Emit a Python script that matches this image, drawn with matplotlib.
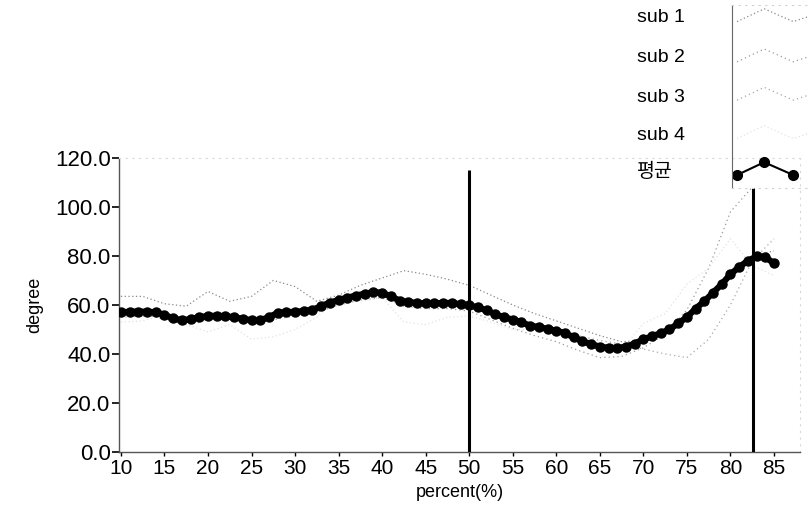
import numpy as np
import matplotlib
matplotlib.use("Agg")
import matplotlib.pyplot as plt

plt.rcParams['font.family'] = ['Liberation Sans', 'Noto Sans CJK KR', 'DejaVu Sans']

# percent of cycle for the averaged curve (1 % steps)
pct_mean = list(range(10, 86))
mean_deg = [
    57.0, 57.2, 57.3, 57.2, 57.0, 56.0, 54.5, 53.8, 54.2, 55.0,
    55.5, 55.6, 55.4, 55.0, 54.3, 53.8, 53.8, 55.0, 56.8, 57.0,
    57.2, 57.5, 58.0, 59.5, 61.0, 62.0, 63.0, 63.8, 64.6, 65.2,
    65.0, 63.5, 61.8, 61.2, 60.8, 60.6, 60.6, 60.8, 60.8, 60.3,
    59.8, 59.0, 57.8, 56.2, 55.0, 54.0, 53.0, 51.5, 51.0, 50.2,
    49.5, 48.5, 46.8, 45.2, 44.0, 43.0, 42.5, 42.4, 43.0, 44.2,
    46.0, 47.2, 48.5, 50.0, 52.5, 55.0, 58.5, 61.5, 65.0, 68.5,
    72.5, 75.5, 78.0, 79.8, 79.5, 77.0,
]

# individual subjects (2.5 % steps)
pct_sub = [10, 12.5, 15, 17.5, 20, 22.5, 25, 27.5, 30, 32.5, 35, 37.5, 40, 42.5, 45,
           47.5, 50, 52.5, 55, 57.5, 60, 62.5, 65, 67.5, 70, 72.5, 75, 77.5, 80, 82.5, 85]
sub1 = [63.5, 63.5, 60.5, 59.5, 65.5, 61.5, 63.5, 70.0, 67.5, 61.5, 64.0, 68.0, 71.0, 74.0, 72.5,
        70.5, 68.0, 64.0, 60.0, 56.5, 53.5, 50.5, 47.5, 45.0, 45.5, 49.5, 55.0, 63.0, 73.0, 80.0, 82.0]
sub2 = [57.0, 56.5, 54.0, 52.0, 54.0, 54.5, 52.5, 54.0, 55.5, 57.0, 60.0, 62.0, 63.0, 59.5, 58.5,
        58.5, 57.5, 54.0, 50.5, 47.5, 45.0, 41.5, 38.5, 39.0, 42.5, 48.0, 58.0, 75.0, 98.0, 108.0, np.nan]
sub3 = [55.0, 55.5, 55.0, 53.5, 54.0, 54.5, 53.0, 55.0, 56.0, 57.5, 61.0, 62.5, 63.5, 60.0, 59.5,
        59.5, 59.0, 56.0, 53.5, 51.5, 49.5, 47.5, 45.5, 44.0, 42.0, 40.0, 38.5, 46.0, 60.0, 78.0, 87.0]
sub4 = [53.0, 53.5, 56.0, 52.0, 49.0, 52.0, 46.0, 47.0, 50.0, 55.0, 63.0, 61.5, 63.0, 53.0, 52.0,
        55.0, 55.5, 53.0, 50.0, 50.0, 48.5, 47.0, 41.0, 41.5, 52.5, 56.5, 68.5, 75.0, 87.0, 76.0, 72.0]

sub_labels = ["sub 1", "sub 2", "sub 3", "sub 4"]
mean_label = "평균"
marker_pcts = [50, 82.6]

xticks = list(range(10, 90, 5))
yticks = [0, 20, 40, 60, 80, 100, 120]

sub_styles = [
    dict(color="#8a8a8a", lw=0.9, ls=(0, (1, 2))),
    dict(color="#9a9a9a", lw=0.9, ls=(0, (1, 2.5))),
    dict(color="#a8a8a8", lw=0.9, ls=(0, (1, 2.5))),
    dict(color="#e2e2e2", lw=0.9, ls=(0, (1, 2))),
]
mean_style = dict(color="black", lw=4.5, marker="o", ms=6.5, mfc="black", mec="black")

fig = plt.figure(figsize=(8.09, 5.16), dpi=100)
ax = fig.add_axes([0.147, 0.124, 0.842, 0.570])

for vals, st in zip([sub1, sub2, sub3, sub4], sub_styles):
    ax.plot(pct_sub, vals, **st, zorder=2)
ax.plot(pct_mean, mean_deg, **mean_style, zorder=3)

ax.vlines(marker_pcts[0], 0, 115, color="black", lw=2.2, zorder=4)
ax.vlines(marker_pcts[1], 0, 107.7, color="black", lw=2.2, zorder=4)

ax.set_xlim(9.77, 88.0)
ax.set_ylim(0, 120)
ax.set_xticks(xticks)
ax.set_xticklabels([str(t) for t in xticks])
ax.set_yticks(yticks)
ax.set_yticklabels([f"{t:.1f}" for t in yticks])
ax.tick_params(axis="y", direction="out", length=5, width=1.2, pad=1, labelsize=16)
ax.tick_params(axis="x", direction="out", length=3, width=1, pad=2, labelsize=15)

for side in ["left", "bottom"]:
    ax.spines[side].set_color("#555555")
    ax.spines[side].set_linestyle((0, (1, 1)))
    ax.spines[side].set_linewidth(1.0)
for side in ["top", "right"]:
    ax.spines[side].set_color("#d8d8d8")
    ax.spines[side].set_linestyle((0, (1, 5)))
    ax.spines[side].set_linewidth(0.8)

ax.set_xlabel("percent(%)", fontsize=13, labelpad=4)
ax.set_ylabel("degree", fontsize=13, labelpad=8)

# legend: labels on the left, small zig-zag samples in a box on the right
lax = fig.add_axes([0.905, 0.636, 0.12, 0.354])
lax.set_xlim(0, 1)
lax.set_ylim(0, 1)
lax.set_xticks([])
lax.set_yticks([])
lax.spines["left"].set_color("#666666")
lax.spines["left"].set_linestyle((0, (1, 1)))
for side in ["top", "bottom", "right"]:
    lax.spines[side].set_color("#d0d0d0")
    lax.spines[side].set_linestyle((0, (1, 5)))
lax.patch.set_alpha(0)

entry_y = [0.93, 0.71, 0.50, 0.29, 0.09]
zig_x = np.array([0.05, 0.33, 0.63, 0.8])
zig_y = np.array([-0.02, 0.05, -0.02, 0.01])
for yc, st in zip(entry_y[:4], sub_styles):
    lax.plot(zig_x, yc + zig_y, **st)
lax.plot(zig_x[:3], entry_y[4] + zig_y[:3], color="black", lw=1.5,
         marker="o", ms=7, mfc="black", mec="black")

label_fy = [1 - p / 516 for p in [18, 58, 97, 135, 172]]
for lab, fy in zip(sub_labels + [mean_label], label_fy):
    fig.text(0.787, fy, lab, fontsize=14, va="center", ha="left")

fig.savefig("out.png", dpi=100)
